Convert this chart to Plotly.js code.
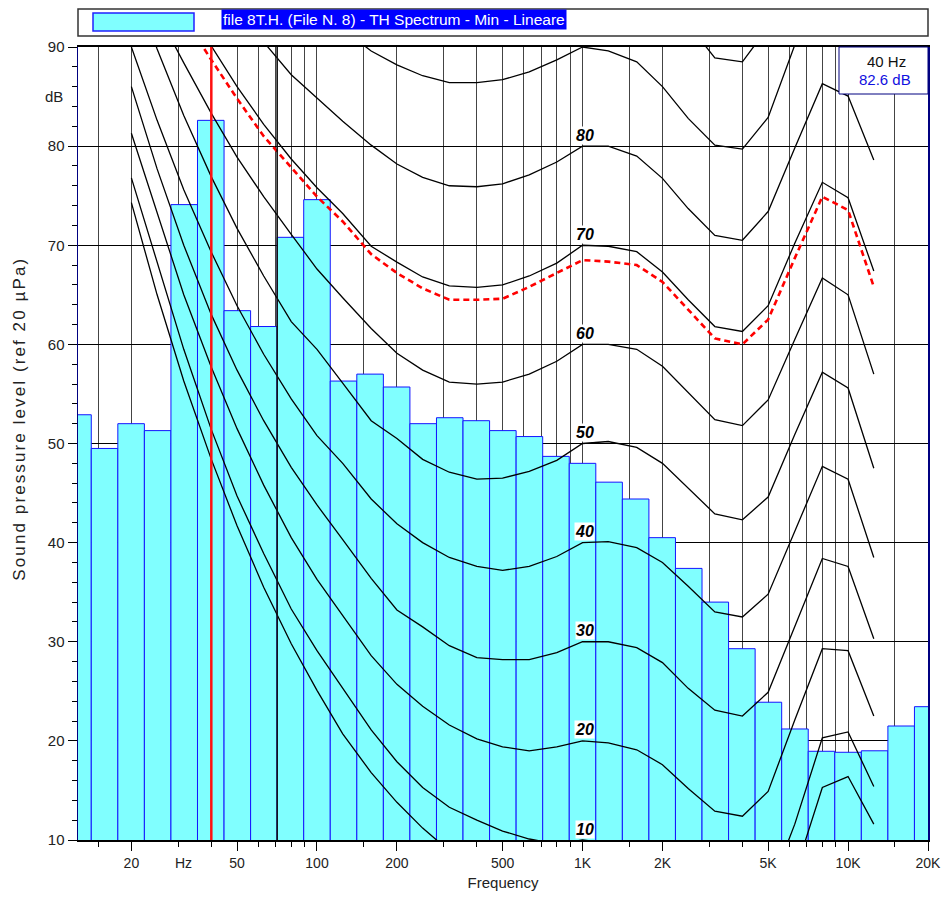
<!DOCTYPE html>
<html>
<head>
<meta charset="utf-8">
<script src="https://cdn.plot.ly/plotly-3.0.1.min.js"></script>
<style>
html,body{margin:0;padding:0;background:#fff}
#chart{width:943px;height:899px}
#chart .annotation[data-index="0"] .annotation-text{letter-spacing:2.1px}
</style>
</head>
<body>
<div id="chart"></div>
<script>
// ---- Third-octave spectrum (bars) ----
const bandFreqs = [12.5,16,20,25,31.5,40,50,63,80,100,125,160,200,250,315,400,500,630,800,1000,1250,1600,2000,2500,3150,4000,5000,6300,8000,10000,12500,16000,20000];
const bandLevels = [52.9,49.5,52.0,51.3,74.1,82.6,63.4,61.8,70.8,74.6,56.3,57.0,55.7,52.0,52.6,52.3,51.3,50.7,48.7,48.0,46.1,44.4,40.5,37.4,34.0,29.3,23.9,21.2,18.95,18.85,19.0,21.5,23.45];

// ---- Equal-loudness contours ----
const contourFreqs = [20,25,31.5,40,50,63,80,100,125,160,200,250,315,400,500,630,800,1000,1250,1600,2000,2500,3150,4000,5000,6300,8000,10000,12500];
const threshold = [74.3,65.0,56.3,48.4,41.7,35.5,29.8,25.1,20.7,16.8,13.8,11.2,8.9,7.2,6.0,5.0,4.4,4.2,3.7,2.6,1.0,-1.2,-3.6,-3.9,-1.1,6.6,15.3,16.4,11.6];
const phon10 = [76.8,68.3,59.5,51.4,44.7,38.9,33.3,29.1,25.3,21.1,17.9,15.3,13.3,12.0,10.9,10.1,9.6,10.0,9.7,8.8,7.2,4.9,2.4,1.9,4.6,11.6,20.3,20.9,15.4];
const phon20 = [81.3,73.3,65.0,57.7,51.5,45.8,40.5,36.3,32.6,28.6,25.7,23.5,21.6,20.2,19.4,19.0,19.4,20.0,19.8,19.1,17.6,15.2,12.9,12.4,14.9,22.1,29.3,29.1,22.5];
const phon30 = [86.0,77.7,70.0,63.0,57.4,52.3,47.6,43.8,40.3,36.4,33.2,31.5,29.6,28.4,28.2,28.2,28.9,30.0,30.0,29.4,27.9,25.3,23.1,22.5,24.9,31.6,38.4,37.6,30.3];
const phon40 = [90.0,82.6,75.6,69.3,63.9,59.0,54.5,50.8,48.0,44.4,41.9,40.0,38.5,37.6,37.2,37.6,38.6,40.0,40.1,39.5,38.0,35.6,33.0,32.5,34.8,41.2,47.7,46.4,38.5];
const phon50 = [97.0,89.8,83.1,76.9,71.7,66.9,62.3,59.5,56.1,52.3,50.5,48.4,47.1,46.4,46.5,47.2,48.3,50.0,50.2,49.6,48.0,45.5,42.9,42.3,44.6,50.9,57.2,55.6,47.5];
const phon60 = [100.5,93.5,88.4,83.3,78.9,74.9,71.1,67.6,64.7,61.6,59.1,57.4,56.2,56.0,56.2,57.0,58.3,60.0,60.0,59.5,57.8,55.1,52.4,51.8,54.4,60.5,66.7,65.0,57.0];
const phon70 = [105,100,94.9,90.1,86.0,82.2,78.7,75.8,73.2,69.9,68.3,66.8,65.9,65.75,66.0,66.9,68.2,70.0,69.9,69.35,67.3,64.5,61.8,61.3,63.9,70.2,76.35,74.8,67.4];
const phon80 = [112,108,103,96.5,93.2,90.5,87.2,84.9,82.5,80.1,78.2,76.85,76.0,75.9,76.2,77.1,78.4,80.0,80.0,79.0,76.75,73.7,71.0,70.5,73.4,79.8,86.3,85.05,78.6];
const phon90 = [120,117,114,110,106,102,98.5,95.2,91.8,89.6,88.2,87.1,86.4,86.4,86.7,87.5,88.7,90.0,89.6,88.5,86.0,82.8,80.1,79.7,82.9,90.2,96.3,95.0,88.5];
const phon100 = [130,126,122,118,114,110,106,103,100,98.5,97.5,97,96.7,96.7,97,97.8,98.8,100,99.8,98.2,95.6,92.3,88.9,88.5,92.0,99.5,106,105,98.5];
const spectrumLoudness = [103,98,93,88.7,84.8,81.0,77.8,74.9,72.4,69.1,67.2,65.65,64.5,64.5,64.6,65.8,67.2,68.5,68.35,68.0,66.3,63.5,60.6,60.0,62.5,68.7,74.9,73.55,65.8];

const contourLabels = ['10','20','30','40','50','60','70','80'];
const contourLabelLevels = [10,20,30,40,50,60,70,80];

// ---- Cursors / readout ----
const cursorFreq = [40];
const cursorLevel = [82.6];
const secondCursorFreq = [70.8];

// ---- Axis ticks ----
const xTickVals = [20,50,100,200,500,1000,2000,5000,10000,20000];
const xTickText = ['20','50','100','200','500','1K','2K','5K','10K','20K'];
const xMinorVals = [15,30,40,60,70,80,90,150,300,400,600,700,800,900,1500,3000,4000,6000,7000,8000,9000,15000];
const yTickVals = [10,20,30,40,50,60,70,80,90];

const legendText = 'file 8T.H. (File N. 8) - TH Spectrum - Min - Lineare';
const yTitle = 'Sound pressure level (ref 20 µPa)';
const xTitle = 'Frequency';

// third-octave band edges (needed by the bar trace on a log axis)
const barOffsets = [], barWidths = [];
bandFreqs.forEach(f => {
  const n = Math.round(10 * Math.log10(f));
  const lo = Math.pow(10, (n - 0.5) / 10), hi = Math.pow(10, (n + 0.5) / 10);
  barOffsets.push(lo - f);
  barWidths.push(hi - lo);
});

const FONT = 'Arial, "Liberation Sans", sans-serif';
const traces = [];
traces.push({
  type: 'bar', x: bandFreqs, y: bandLevels, offset: barOffsets, width: barWidths,
  marker: {color: '#80FFFF', line: {color: '#1414FF', width: 1}}, hoverinfo: 'skip', showlegend: false
});
[threshold, phon10, phon20, phon30, phon40, phon50, phon60, phon70, phon80, phon90, phon100].forEach(c => {
  traces.push({type: 'scatter', mode: 'lines', x: contourFreqs, y: c,
    line: {color: '#000', width: 1.3}, hoverinfo: 'skip', showlegend: false});
});
traces.push({type: 'scatter', mode: 'lines', x: contourFreqs, y: spectrumLoudness,
  line: {color: '#FF0000', width: 2.6, dash: '6px,4px'}, hoverinfo: 'skip', showlegend: false});
traces.push({type: 'scatter', mode: 'lines', x: [secondCursorFreq[0], secondCursorFreq[0]], y: [10, 90],
  line: {color: '#111', width: 1.6}, hoverinfo: 'skip', showlegend: false});
traces.push({type: 'scatter', mode: 'lines', x: [cursorFreq[0], cursorFreq[0]], y: [10, 90],
  line: {color: '#FF1010', width: 2.5}, hoverinfo: 'skip', showlegend: false});

const annotations = [];
// index 0: y-axis title (letter-spaced via CSS)
annotations.push({x: (19 - 78) / 850, y: (840 - 419) / 793, xref: 'paper', yref: 'paper', text: yTitle,
  textangle: -90, showarrow: false, xanchor: 'center', yanchor: 'middle',
  font: {family: FONT, size: 17, color: '#222'}});
contourLabels.forEach((t, i) => {
  annotations.push({x: Math.log10(1020), y: contourLabelLevels[i] + 1.1, xref: 'x', yref: 'y',
    text: '<b><i>' + t + '</i></b>', showarrow: false, xanchor: 'center', yanchor: 'middle',
    bgcolor: '#FFFFFF', borderpad: 0, font: {family: FONT, size: 16, color: '#000'}});
});
annotations.push({x: -0.015, y: 85, xref: 'paper', yref: 'y', text: 'dB', showarrow: false,
  xanchor: 'right', yanchor: 'middle', font: {family: FONT, size: 15, color: '#222'}});
annotations.push({x: Math.log10(31.5), y: 0, xref: 'x', yref: 'paper', yshift: -23, text: 'Hz', showarrow: false,
  xanchor: 'center', yanchor: 'middle', font: {family: FONT, size: 14, color: '#222'}});
annotations.push({x: (221 - 78) / 850, y: (840 - 20) / 793, xref: 'paper', yref: 'paper', text: legendText,
  showarrow: false, xanchor: 'left', yanchor: 'middle', bgcolor: '#0000FF', borderpad: 1,
  font: {family: FONT, size: 15.5, color: '#FFFFFF'}});
annotations.push({x: (886 - 78) / 850, y: (840 - 62) / 793, xref: 'paper', yref: 'paper',
  text: cursorFreq[0] + ' Hz', showarrow: false, xanchor: 'center', yanchor: 'middle',
  font: {family: FONT, size: 15, color: '#111'}});
annotations.push({x: (885 - 78) / 850, y: (840 - 80) / 793, xref: 'paper', yref: 'paper',
  text: cursorLevel[0].toFixed(1) + ' dB', showarrow: false, xanchor: 'center', yanchor: 'middle',
  font: {family: FONT, size: 15, color: '#1010E0'}});

const px = v => (v - 78) / 850, py = v => (840 - v) / 793;
const shapes = [
  {type: 'rect', xref: 'paper', yref: 'paper', x0: px(78), x1: px(928), y0: py(36), y1: py(9),
    line: {color: '#333', width: 1.5}, fillcolor: 'rgba(0,0,0,0)'},
  {type: 'rect', xref: 'paper', yref: 'paper', x0: px(93), x1: px(194), y0: py(31), y1: py(13),
    line: {color: '#2020FF', width: 1.5}, fillcolor: '#80FFFF'},
  {type: 'rect', xref: 'paper', yref: 'paper', x0: px(839), x1: px(928), y0: py(94), y1: py(47),
    line: {color: '#000080', width: 1}, fillcolor: '#FFFFFF', layer: 'above'}
];

const layout = {
  width: 943, height: 899,
  margin: {l: 78, r: 15, t: 47, b: 59},
  paper_bgcolor: '#fff', plot_bgcolor: '#fff',
  font: {family: FONT, size: 14, color: '#222'},
  showlegend: false, bargap: 0,
  xaxis: {
    type: 'log', range: [1.1, Math.log10(20000)], autorange: false,
    tickmode: 'array', tickvals: xTickVals, ticktext: xTickText,
    ticks: 'outside', ticklen: 9, tickwidth: 1, tickcolor: '#000',
    showgrid: true, gridcolor: '#444', gridwidth: 1,
    minor: {tickmode: 'array', tickvals: xMinorVals, ticks: 'outside', ticklen: 5, tickcolor: '#000',
      showgrid: true, gridcolor: '#444', gridwidth: 1},
    showline: true, linecolor: '#000', linewidth: 2, mirror: true, zeroline: false,
    tickfont: {family: FONT, size: 14, color: '#222'},
    title: {text: xTitle, font: {family: FONT, size: 15, color: '#222'}, standoff: 8}
  },
  yaxis: {
    range: [10, 90], autorange: false, tickmode: 'array', tickvals: yTickVals,
    ticks: 'outside', ticklen: 9, tickwidth: 1, tickcolor: '#000',
    minor: {dtick: 2, ticks: 'outside', ticklen: 5, tickcolor: '#000', showgrid: false},
    showgrid: true, gridcolor: '#000', gridwidth: 1,
    showline: true, linecolor: '#000080', linewidth: 1.5, mirror: true, zeroline: false,
    tickfont: {family: FONT, size: 15, color: '#222'}
  },
  annotations: annotations,
  shapes: shapes
};

Plotly.newPlot('chart', traces, layout, {displayModeBar: false, staticPlot: true});
</script>
</body>
</html>
